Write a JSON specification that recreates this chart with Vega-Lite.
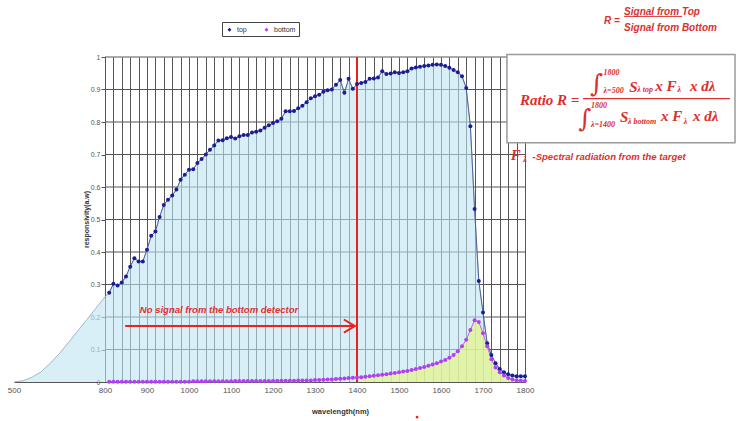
{
"$schema": "https://vega.github.io/schema/vega-lite/v6.json",
"width": 420, "height": 325,
"autosize": "none",
"padding": {"left": 105, "top": 57, "right": 222, "bottom": 39},
"background": "white",
"config": {"view": {"stroke": null}, "font": "Liberation Sans"},
"resolve": {"axis": {"x": "independent", "y": "independent"}},
"datasets": {
"ext": [
{"wl": 500, "r": 0.0}, {"wl": 530, "r": 0.004}, {"wl": 560, "r": 0.015}, {"wl": 590, "r": 0.032},
{"wl": 620, "r": 0.058}, {"wl": 650, "r": 0.088}, {"wl": 680, "r": 0.122}, {"wl": 710, "r": 0.157},
{"wl": 740, "r": 0.192}, {"wl": 770, "r": 0.227}, {"wl": 800, "r": 0.262}, {"wl": 810, "r": 0.275}
],
"resp": [
{"wl": 810, "top": 0.275, "bottom": 0.001}, {"wl": 820, "top": 0.302, "bottom": 0.001}, {"wl": 830, "top": 0.297, "bottom": 0.001},
{"wl": 840, "top": 0.306, "bottom": 0.001}, {"wl": 850, "top": 0.325, "bottom": 0.001}, {"wl": 860, "top": 0.355, "bottom": 0.001},
{"wl": 870, "top": 0.381, "bottom": 0.001}, {"wl": 880, "top": 0.371, "bottom": 0.001}, {"wl": 890, "top": 0.371, "bottom": 0.001},
{"wl": 900, "top": 0.407, "bottom": 0.001}, {"wl": 910, "top": 0.45, "bottom": 0.001}, {"wl": 920, "top": 0.463, "bottom": 0.001},
{"wl": 930, "top": 0.508, "bottom": 0.001}, {"wl": 940, "top": 0.545, "bottom": 0.001}, {"wl": 950, "top": 0.561, "bottom": 0.001},
{"wl": 960, "top": 0.574, "bottom": 0.001}, {"wl": 970, "top": 0.592, "bottom": 0.001}, {"wl": 980, "top": 0.622, "bottom": 0.001},
{"wl": 990, "top": 0.638, "bottom": 0.001}, {"wl": 1000, "top": 0.653, "bottom": 0.001}, {"wl": 1010, "top": 0.655, "bottom": 0.002},
{"wl": 1020, "top": 0.674, "bottom": 0.002}, {"wl": 1030, "top": 0.686, "bottom": 0.002}, {"wl": 1040, "top": 0.7, "bottom": 0.002},
{"wl": 1050, "top": 0.715, "bottom": 0.002}, {"wl": 1060, "top": 0.728, "bottom": 0.002}, {"wl": 1070, "top": 0.743, "bottom": 0.002},
{"wl": 1080, "top": 0.744, "bottom": 0.002}, {"wl": 1090, "top": 0.75, "bottom": 0.002}, {"wl": 1100, "top": 0.754, "bottom": 0.002},
{"wl": 1110, "top": 0.749, "bottom": 0.003}, {"wl": 1120, "top": 0.756, "bottom": 0.003}, {"wl": 1130, "top": 0.76, "bottom": 0.003},
{"wl": 1140, "top": 0.76, "bottom": 0.003}, {"wl": 1150, "top": 0.768, "bottom": 0.003}, {"wl": 1160, "top": 0.77, "bottom": 0.003},
{"wl": 1170, "top": 0.774, "bottom": 0.003}, {"wl": 1180, "top": 0.782, "bottom": 0.003}, {"wl": 1190, "top": 0.79, "bottom": 0.003},
{"wl": 1200, "top": 0.797, "bottom": 0.003}, {"wl": 1210, "top": 0.802, "bottom": 0.004}, {"wl": 1220, "top": 0.81, "bottom": 0.004},
{"wl": 1230, "top": 0.833, "bottom": 0.004}, {"wl": 1240, "top": 0.833, "bottom": 0.004}, {"wl": 1250, "top": 0.834, "bottom": 0.004},
{"wl": 1260, "top": 0.842, "bottom": 0.005}, {"wl": 1270, "top": 0.85, "bottom": 0.005}, {"wl": 1280, "top": 0.861, "bottom": 0.005},
{"wl": 1290, "top": 0.873, "bottom": 0.005}, {"wl": 1300, "top": 0.879, "bottom": 0.006}, {"wl": 1310, "top": 0.884, "bottom": 0.006},
{"wl": 1320, "top": 0.893, "bottom": 0.007}, {"wl": 1330, "top": 0.898, "bottom": 0.008}, {"wl": 1340, "top": 0.9, "bottom": 0.008},
{"wl": 1350, "top": 0.915, "bottom": 0.009}, {"wl": 1360, "top": 0.929, "bottom": 0.01}, {"wl": 1370, "top": 0.89, "bottom": 0.011},
{"wl": 1380, "top": 0.933, "bottom": 0.012}, {"wl": 1390, "top": 0.902, "bottom": 0.013}, {"wl": 1400, "top": 0.917, "bottom": 0.014},
{"wl": 1410, "top": 0.92, "bottom": 0.015}, {"wl": 1420, "top": 0.923, "bottom": 0.016}, {"wl": 1430, "top": 0.933, "bottom": 0.018},
{"wl": 1440, "top": 0.934, "bottom": 0.019}, {"wl": 1450, "top": 0.937, "bottom": 0.021}, {"wl": 1460, "top": 0.956, "bottom": 0.022},
{"wl": 1470, "top": 0.948, "bottom": 0.024}, {"wl": 1480, "top": 0.949, "bottom": 0.026}, {"wl": 1490, "top": 0.953, "bottom": 0.028},
{"wl": 1500, "top": 0.951, "bottom": 0.03}, {"wl": 1510, "top": 0.953, "bottom": 0.032}, {"wl": 1520, "top": 0.956, "bottom": 0.034},
{"wl": 1530, "top": 0.965, "bottom": 0.037}, {"wl": 1540, "top": 0.968, "bottom": 0.04}, {"wl": 1550, "top": 0.97, "bottom": 0.043},
{"wl": 1560, "top": 0.972, "bottom": 0.046}, {"wl": 1570, "top": 0.974, "bottom": 0.05}, {"wl": 1580, "top": 0.976, "bottom": 0.054},
{"wl": 1590, "top": 0.977, "bottom": 0.058}, {"wl": 1600, "top": 0.976, "bottom": 0.063}, {"wl": 1610, "top": 0.972, "bottom": 0.068},
{"wl": 1620, "top": 0.967, "bottom": 0.075}, {"wl": 1630, "top": 0.96, "bottom": 0.083}, {"wl": 1640, "top": 0.953, "bottom": 0.095},
{"wl": 1650, "top": 0.941, "bottom": 0.11}, {"wl": 1660, "top": 0.905, "bottom": 0.13}, {"wl": 1670, "top": 0.787, "bottom": 0.16},
{"wl": 1680, "top": 0.532, "bottom": 0.19}, {"wl": 1690, "top": 0.311, "bottom": 0.185}, {"wl": 1700, "top": 0.214, "bottom": 0.15},
{"wl": 1710, "top": 0.119, "bottom": 0.11}, {"wl": 1720, "top": 0.083, "bottom": 0.07}, {"wl": 1730, "top": 0.058, "bottom": 0.045},
{"wl": 1740, "top": 0.04, "bottom": 0.03}, {"wl": 1750, "top": 0.03, "bottom": 0.02}, {"wl": 1760, "top": 0.024, "bottom": 0.012},
{"wl": 1770, "top": 0.02, "bottom": 0.008}, {"wl": 1780, "top": 0.018, "bottom": 0.005}, {"wl": 1790, "top": 0.018, "bottom": 0.004},
{"wl": 1800, "top": 0.018, "bottom": 0.003}
]
},
"layer": [
{
"data": {"values": [{"g": 0.1}, {"g": 0.2}, {"g": 0.3}, {"g": 0.4}, {"g": 0.5}, {"g": 0.6}, {"g": 0.7}, {"g": 0.8}, {"g": 0.9}, {"g": 1}]},
"mark": {"type": "rule", "color": "#555", "strokeWidth": 1},
"encoding": {
"x": {"datum": 800, "type": "quantitative", "axis": null},
"x2": {"datum": 1800},
"y": {"field": "g", "type": "quantitative", "axis": null}
}
},
{
"data": {"name": "ext"},
"mark": {"type": "area", "fill": "#c0e4f2", "fillOpacity": 0.6, "line": {"color": "#8aa7b8", "strokeWidth": 0.8}},
"encoding": {
"x": {"field": "wl", "type": "quantitative",
 "scale": {"domain": [500, 800, 1800], "range": [-91, 0, 420], "nice": false, "zero": false},
 "axis": {
  "values": [500, 800, 820, 840, 860, 880, 900, 920, 940, 960, 980, 1000, 1020, 1040, 1060, 1080, 1100, 1120, 1140, 1160, 1180, 1200, 1220, 1240, 1260, 1280, 1300, 1320, 1340, 1360, 1380, 1400, 1420, 1440, 1460, 1480, 1500, 1520, 1540, 1560, 1580, 1600, 1620, 1640, 1660, 1680, 1700, 1720, 1740, 1760, 1780, 1800],
  "format": "d",
  "labelExpr": "datum.value % 100 == 0 ? datum.label : ''",
  "grid": true, "gridColor": "#555", "gridWidth": 1,
  "gridOpacity": {"condition": {"test": "datum.value < 800", "value": 0}, "value": 1},
  "ticks": false, "domain": true, "domainColor": "#555", "orient": "bottom",
  "labelFontSize": 8, "labelColor": "#555", "labelPadding": 4, "labelFlush": false, "labelOverlap": false,
  "title": "wavelength(nm)", "titleFontSize": 7.5, "titleFontWeight": "bold", "titleColor": "#333",
  "titleX": 235, "titleY": 29, "titleBaseline": "middle", "titleAlign": "center"
 }},
"y": {"field": "r", "type": "quantitative",
 "scale": {"domain": [0, 1], "nice": false, "zero": false},
 "axis": {
  "values": [0, 0.1, 0.2, 0.3, 0.4, 0.5, 0.6, 0.7, 0.8, 0.9, 1],
  "format": "~g", "orient": "left",
  "grid": false,
  "tickSize": 4, "tickColor": "#555", "domainColor": "#555",
  "labelFontSize": 7, "labelColor": "#555", "labelPadding": 1,
  "title": "responsivity(a.w)", "titleFontSize": 7, "titleFontWeight": "bold", "titleColor": "#333",
  "titleX": -19, "titleY": 162, "titleAngle": 270, "titleBaseline": "middle", "titleAlign": "center"
 }}
}
},
{
"data": {"name": "resp"},
"mark": {"type": "area", "fill": "#c0e4f2", "fillOpacity": 0.6, "line": {"color": "#8aa7b8", "strokeWidth": 0.8}},
"encoding": {
"x": {"field": "wl", "type": "quantitative", "axis": null},
"y": {"field": "top", "type": "quantitative", "axis": null}
}
},
{
"data": {"name": "resp"},
"transform": [{"filter": "datum.wl >= 1400"}],
"mark": {"type": "area", "fill": "#e3f48e", "fillOpacity": 0.75},
"encoding": {
"x": {"field": "wl", "type": "quantitative", "axis": null},
"y": {"field": "bottom", "type": "quantitative", "axis": null}
}
},
{
"data": {"values": [{}]},
"mark": {"type": "rule", "color": "#e8231f", "strokeWidth": 2},
"encoding": {
"x": {"datum": 1400, "type": "quantitative", "axis": null},
"y": {"datum": 0, "type": "quantitative", "axis": null},
"y2": {"datum": 1}
}
},
{
"data": {"values": [{}]},
"mark": {"type": "rect", "fill": "white", "stroke": "#9a9a9a", "strokeWidth": 1.5},
"encoding": {
"x": {"datum": 1757, "type": "quantitative", "axis": null},
"x2": {"datum": 2300},
"y": {"datum": 1.008, "type": "quantitative", "axis": null},
"y2": {"datum": 0.7365}
}
},
{
"data": {"name": "resp"},
"mark": {"type": "line", "color": "#3b4a8c", "strokeWidth": 0.8},
"encoding": {
"x": {"field": "wl", "type": "quantitative", "axis": null},
"y": {"field": "top", "type": "quantitative", "axis": null}
}
},
{
"data": {"name": "resp"},
"mark": {"type": "line", "color": "#b040f0", "strokeWidth": 0.8},
"encoding": {
"x": {"field": "wl", "type": "quantitative", "axis": null},
"y": {"field": "bottom", "type": "quantitative", "axis": null}
}
},
{
"data": {"name": "resp"},
"transform": [{"fold": ["top", "bottom"], "as": ["series", "r"]}],
"mark": {"type": "point", "filled": true, "size": 16, "opacity": 1},
"encoding": {
"x": {"field": "wl", "type": "quantitative", "axis": null},
"y": {"field": "r", "type": "quantitative", "axis": null},
"color": {"field": "series", "type": "nominal",
 "scale": {"domain": ["top", "bottom"], "range": ["#1c1c96", "#b040f0"]},
 "legend": {"title": null, "orient": "none", "legendX": 117, "legendY": -35, "direction": "horizontal",
  "strokeColor": "#444", "fillColor": "white", "padding": 3, "labelFontSize": 7, "labelColor": "#333",
  "symbolType": "M-1.4,0H1.4M0,-0.5L0.5,0L0,0.5L-0.5,0Z", "symbolSize": 60, "symbolStrokeWidth": 1,
  "columnPadding": 14, "labelOffset": 3}}
}
},
{
"data": {"values": [{}]},
"mark": {"type": "rule", "color": "#e8231f", "strokeWidth": 2},
"encoding": {
"x": {"datum": 848, "type": "quantitative", "axis": null},
"x2": {"datum": 1393},
"y": {"datum": 0.172, "type": "quantitative", "axis": null}
}
},
{
"data": {"values": [{}]},
"mark": {"type": "point", "shape": "M-1,-0.6L0,0L-1,0.6", "size": 484, "filled": false, "stroke": "#e8231f", "strokeWidth": 2, "opacity": 1},
"encoding": {
"x": {"datum": 1395, "type": "quantitative", "axis": null},
"y": {"datum": 0.172, "type": "quantitative", "axis": null}
}
},
{
"data": {"values": [{}]},
"mark": {"type": "point", "shape": "square", "size": 6, "filled": true, "color": "#e8231f", "opacity": 1},
"encoding": {
"x": {"datum": 1543, "type": "quantitative", "axis": null},
"y": {"datum": -0.108, "type": "quantitative", "axis": null}
}
},
{
"data": {"values": [{"t": "No signal from the bottom detector", "wl": 883, "r": 0.222}]},
"mark": {"type": "text", "font": "Liberation Sans", "fontStyle": "italic", "fontWeight": "bold", "fontSize": 9.5, "color": "#e03030", "align": "left", "baseline": "middle"},
"encoding": {
"x": {"field": "wl", "type": "quantitative", "axis": null},
"y": {"field": "r", "type": "quantitative", "axis": null},
"text": {"field": "t"}
}
},
{
"data": {"values": [
 {"t": "R =", "wl": 1988, "r": 1.112},
 {"t": "Signal from Top", "wl": 2036, "r": 1.14},
 {"t": "Signal from Bottom", "wl": 2036, "r": 1.088}
]},
"mark": {"type": "text", "font": "Liberation Sans", "fontStyle": "italic", "fontWeight": "bold", "fontSize": 10, "color": "#d93030", "align": "left", "baseline": "middle"},
"encoding": {
"x": {"field": "wl", "type": "quantitative", "axis": null},
"y": {"field": "r", "type": "quantitative", "axis": null},
"text": {"field": "t"}
}
},
{
"data": {"values": [{"t": "-Spectral radiation from the target", "wl": 1818, "r": 0.693}]},
"mark": {"type": "text", "font": "Liberation Sans", "fontStyle": "italic", "fontWeight": "bold", "fontSize": 9.5, "color": "#d93030", "align": "left", "baseline": "middle"},
"encoding": {
"x": {"field": "wl", "type": "quantitative", "axis": null},
"y": {"field": "r", "type": "quantitative", "axis": null},
"text": {"field": "t"}
}
},
{
"data": {"values": [{}]},
"mark": {"type": "rule", "color": "#d93030", "strokeWidth": 1},
"encoding": {
"x": {"datum": 2036, "type": "quantitative", "axis": null},
"x2": {"datum": 2174},
"y": {"datum": 1.125, "type": "quantitative", "axis": null}
}
},
{
"data": {"values": [{}]},
"mark": {"type": "rule", "color": "#d93030", "strokeWidth": 1.3},
"encoding": {
"x": {"datum": 1938, "type": "quantitative", "axis": null},
"x2": {"datum": 2288},
"y": {"datum": 0.872, "type": "quantitative", "axis": null}
}
},
{
"data": {"values": [
 {"t": "Ratio R =", "wl": 1788, "r": 0.869},
 {"t": "S", "wl": 2048, "r": 0.909},
 {"t": "x F", "wl": 2110, "r": 0.912},
 {"t": "x dλ", "wl": 2193, "r": 0.912},
 {"t": "S", "wl": 2026, "r": 0.814},
 {"t": "x F", "wl": 2124, "r": 0.817},
 {"t": "x dλ", "wl": 2200, "r": 0.817},
 {"t": "F", "wl": 1766, "r": 0.70}
]},
"mark": {"type": "text", "font": "Liberation Serif", "fontStyle": "italic", "fontWeight": "bold", "fontSize": 15, "color": "#d93030", "align": "left", "baseline": "middle"},
"encoding": {
"x": {"field": "wl", "type": "quantitative", "axis": null},
"y": {"field": "r", "type": "quantitative", "axis": null},
"text": {"field": "t"}
}
},
{
"data": {"values": [
 {"t": "1800", "wl": 1987, "r": 0.952},
 {"t": "λ=500", "wl": 1987, "r": 0.894},
 {"t": "λ top", "wl": 2067, "r": 0.897},
 {"t": "λ", "wl": 2163, "r": 0.897},
 {"t": "1800", "wl": 1957, "r": 0.85},
 {"t": "λ=1400", "wl": 1957, "r": 0.792},
 {"t": "λ bottom", "wl": 2045, "r": 0.801},
 {"t": "λ", "wl": 2178, "r": 0.801},
 {"t": "λ", "wl": 1796, "r": 0.684}
]},
"mark": {"type": "text", "font": "Liberation Serif", "fontStyle": "italic", "fontWeight": "bold", "fontSize": 8, "color": "#d93030", "align": "left", "baseline": "middle"},
"encoding": {
"x": {"field": "wl", "type": "quantitative", "axis": null},
"y": {"field": "r", "type": "quantitative", "axis": null},
"text": {"field": "t"}
}
},
{
"data": {"values": [
 {"t": "∫", "wl": 1971, "r": 0.918},
 {"t": "∫", "wl": 1943, "r": 0.81}
]},
"mark": {"type": "text", "font": "DejaVu Serif", "fontSize": 25, "color": "#d93030", "align": "center", "baseline": "middle"},
"encoding": {
"x": {"field": "wl", "type": "quantitative", "axis": null},
"y": {"field": "r", "type": "quantitative", "axis": null},
"text": {"field": "t"}
}
}
]
}
